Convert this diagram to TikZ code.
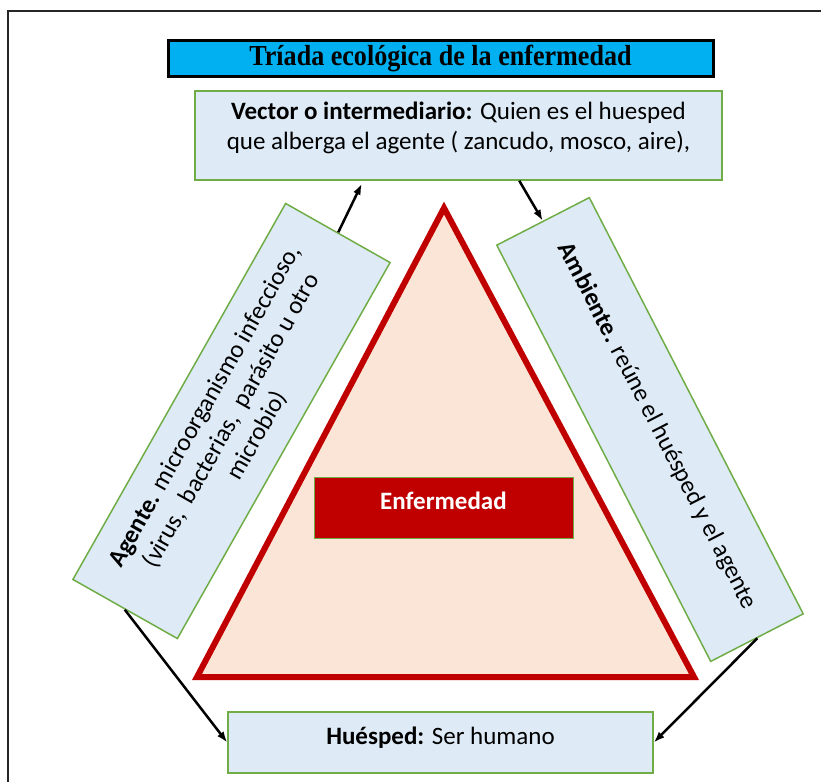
\documentclass[tikz,border=0pt]{standalone}
\usepackage{fontspec}
\setmainfont{Carlito}
\newfontfamily\titlefont{Liberation Serif}
\usepackage{tikz}
\usetikzlibrary{calc, arrows.meta}
\definecolor{boxblue}{HTML}{DEEBF7}
\definecolor{boxgreen}{HTML}{70AD47}
\definecolor{darkred}{HTML}{C00000}
\definecolor{peach}{HTML}{FBE5D6}
\definecolor{titlecyan}{HTML}{00B0F0}

\begin{document}
\begin{tikzpicture}[x=1pt, y=-1pt]
		\tikzstyle{box}=[draw=boxgreen, line width=1.5pt, fill=boxblue, align=center, inner sep=0pt, font=\fontsize{25}{30}\selectfont]
		\tikzstyle{arrow}=[-{Latex[length=11pt, width=8pt]}, line width=2.5pt]
		\useasboundingbox (0,0) rectangle (821,782);
		\draw[line width=2pt, black!85] (8,782) -- (8,11) -- (821,11);
		\node[draw, line width=3pt, fill=titlecyan, minimum width=545pt, minimum height=36pt, inner sep=0pt, font=\titlefont\bfseries\fontsize{29}{32}\selectfont] (title) at (440.5,58) {\scalebox{0.9}[1]{Tríada ecológica de la enfermedad}};
		\node[box, minimum width=527pt, minimum height=89pt] (vector) at (458.5,135.5) {\textbf{Vector o intermediario:} Quien es el huesped\\ que alberga el agente ( zancudo, mosco, aire),\\[-10pt] \mbox{}};
		% triangulo central
		\draw[line width=6pt, draw=darkred, fill=peach] (444,208) -- (694,677) -- (197,677) -- cycle;
		\node[draw=boxgreen, line width=1pt, fill=darkred, text=white, align=center, minimum width=259pt, minimum height=61pt, inner sep=0pt, font=\bfseries\fontsize{25}{30}\selectfont] (enf) at (443.5,507.5) {Enfermedad\\[-16pt] \mbox{}};
		\node[box, rotate=60.5, minimum width=432pt, minimum height=120pt] (agente) at (231.5,421) {\textbf{Agente.} microorganismo infeccioso,\\ (virus,~ bacterias,~ parásito u otro\\ microbio)};
		\node[box, rotate=-62.8, minimum width=468pt, minimum height=104pt] (ambiente) at (650,429.5) {\textbf{Ambiente.} reúne el huésped y el agente\\[-10pt] \mbox{}};
		\node[box, minimum width=425pt, minimum height=61pt] (huesped) at (440.5,742.5) {\textbf{Huésped:} Ser humano\\[-16pt] \mbox{}};
		\draw[arrow] (agente.east) -- ($(vector.south west)!.317!(vector.south east)+(0,3)$);
		\draw[arrow] ($(vector.south west)!.615!(vector.south east)$) -- (ambiente.west);
		\draw[arrow] (agente.west) -- (huesped.west);
		\draw[arrow] (ambiente.east) -- (huesped.east);
	\end{tikzpicture}
\end{document}
